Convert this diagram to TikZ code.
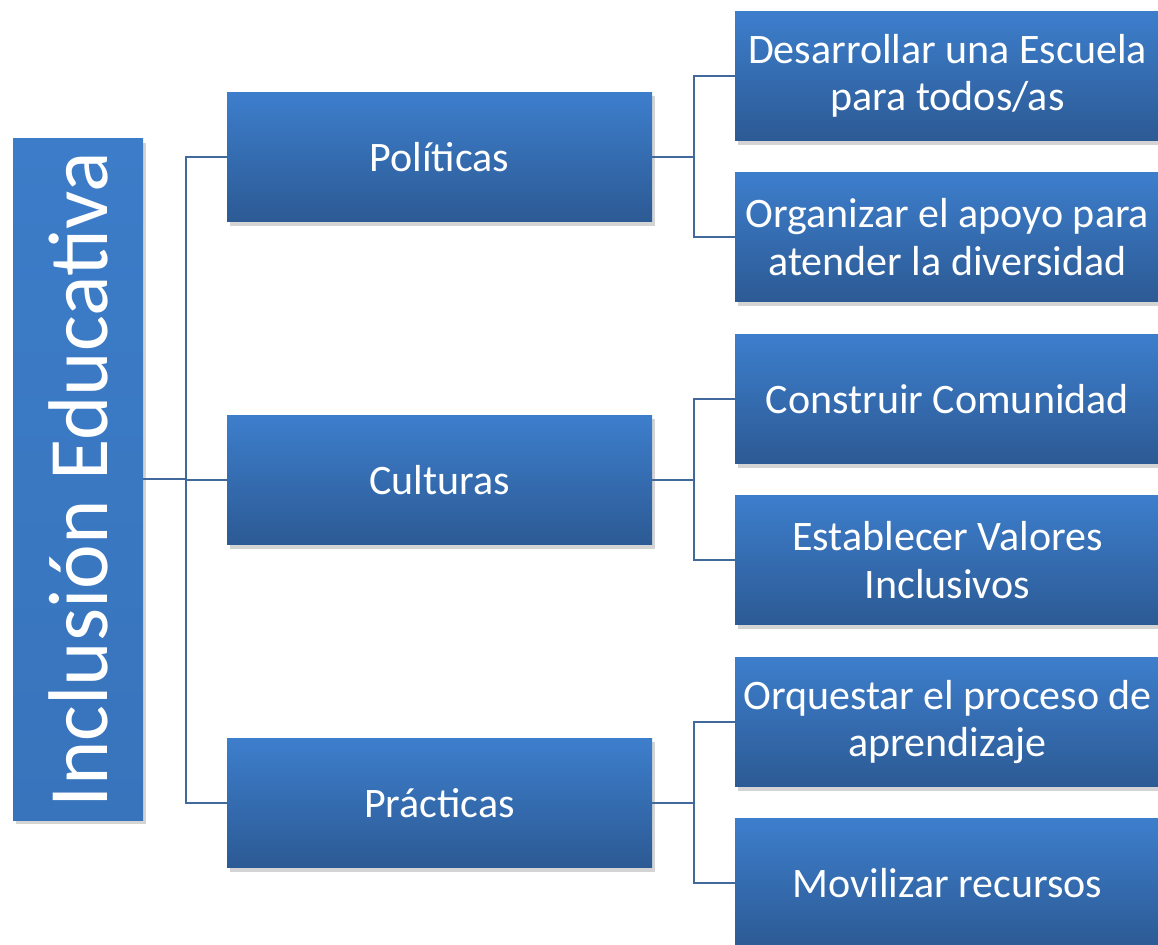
\documentclass[tikz,border=0pt]{standalone}
\usepackage{fontspec}
\setmainfont{Carlito}
\usetikzlibrary{shadows,shadings}
\definecolor{boxtop}{HTML}{3D7ECC}
\definecolor{boxbot}{HTML}{2C5A94}
\definecolor{roottop}{HTML}{3C7CC8}
\definecolor{rootbot}{HTML}{3874BC}
\definecolor{linkc}{HTML}{41699B}
\tikzset{
  px/.style={x=0.75pt,y=-0.75pt},
  boxshadow/.style={drop shadow={opacity=0.28,shadow xshift=2.5pt,shadow yshift=-3pt,fill=black!60}},
  lvlbox/.style={rectangle,inner sep=0pt,top color=boxtop,bottom color=boxbot,
     text=white,align=center,minimum width=318.75pt,minimum height=97pt,
     font=\fontsize{31.5}{35.5}\selectfont,boxshadow},
  rootbox/.style={rectangle,inner sep=0pt,top color=roottop,bottom color=rootbot,
     text=white,minimum width=97.5pt,minimum height=510.75pt,boxshadow},
  link/.style={draw=linkc,line width=1.5pt}
}
\begin{document}
\begin{tikzpicture}[px]
\useasboundingbox (0,0) rectangle (1158,945);
% connectors first (behind boxes)
\coordinate (j0) at (186,479);
\node[rootbox] (root) at (78,479.5) {};
\node[rotate=90,text=white,font=\fontsize{63.5}{70}\selectfont] (roottxt) at (root.center) {Inclusión Educativa};
\node[lvlbox] (pol) at (439.5,157) {Políticas};
\node[lvlbox] (cul) at (439.5,480) {Culturas};
\node[lvlbox] (pra) at (439.5,803) {Prácticas};
\node[lvlbox] (a1) at (947.5,76) {Desarrollar una Escuela\\para todos/as};
\node[lvlbox] (a2) at (947.5,237) {Organizar el apoyo para\\atender la diversidad};
\node[lvlbox] (b1) at (947.5,399) {Construir Comunidad};
\node[lvlbox] (b2) at (947.5,560) {Establecer Valores\\Inclusivos};
\node[lvlbox] (c1) at (947.5,722) {Orquestar el proceso de\\aprendizaje};
\node[lvlbox] (c2) at (947.5,883) {Movilizar recursos};
% level-1 connectors
\draw[link] (root.east |- j0) -- (j0);
\draw[link] (j0) |- (pol.west);
\draw[link] (j0) -- (j0 |- cul.west) -- (cul.west);
\draw[link] (j0) |- (pra.west);
% level-2 connectors
\coordinate (ja) at (694,157);
\coordinate (jb) at (694,480);
\coordinate (jc) at (694,803);
\draw[link] (pol.east) -- (ja);
\draw[link] (ja) |- (a1.west);
\draw[link] (ja) |- (a2.west);
\draw[link] (cul.east) -- (jb);
\draw[link] (jb) |- (b1.west);
\draw[link] (jb) |- (b2.west);
\draw[link] (pra.east) -- (jc);
\draw[link] (jc) |- (c1.west);
\draw[link] (jc) |- (c2.west);
\end{tikzpicture}
\end{document}
